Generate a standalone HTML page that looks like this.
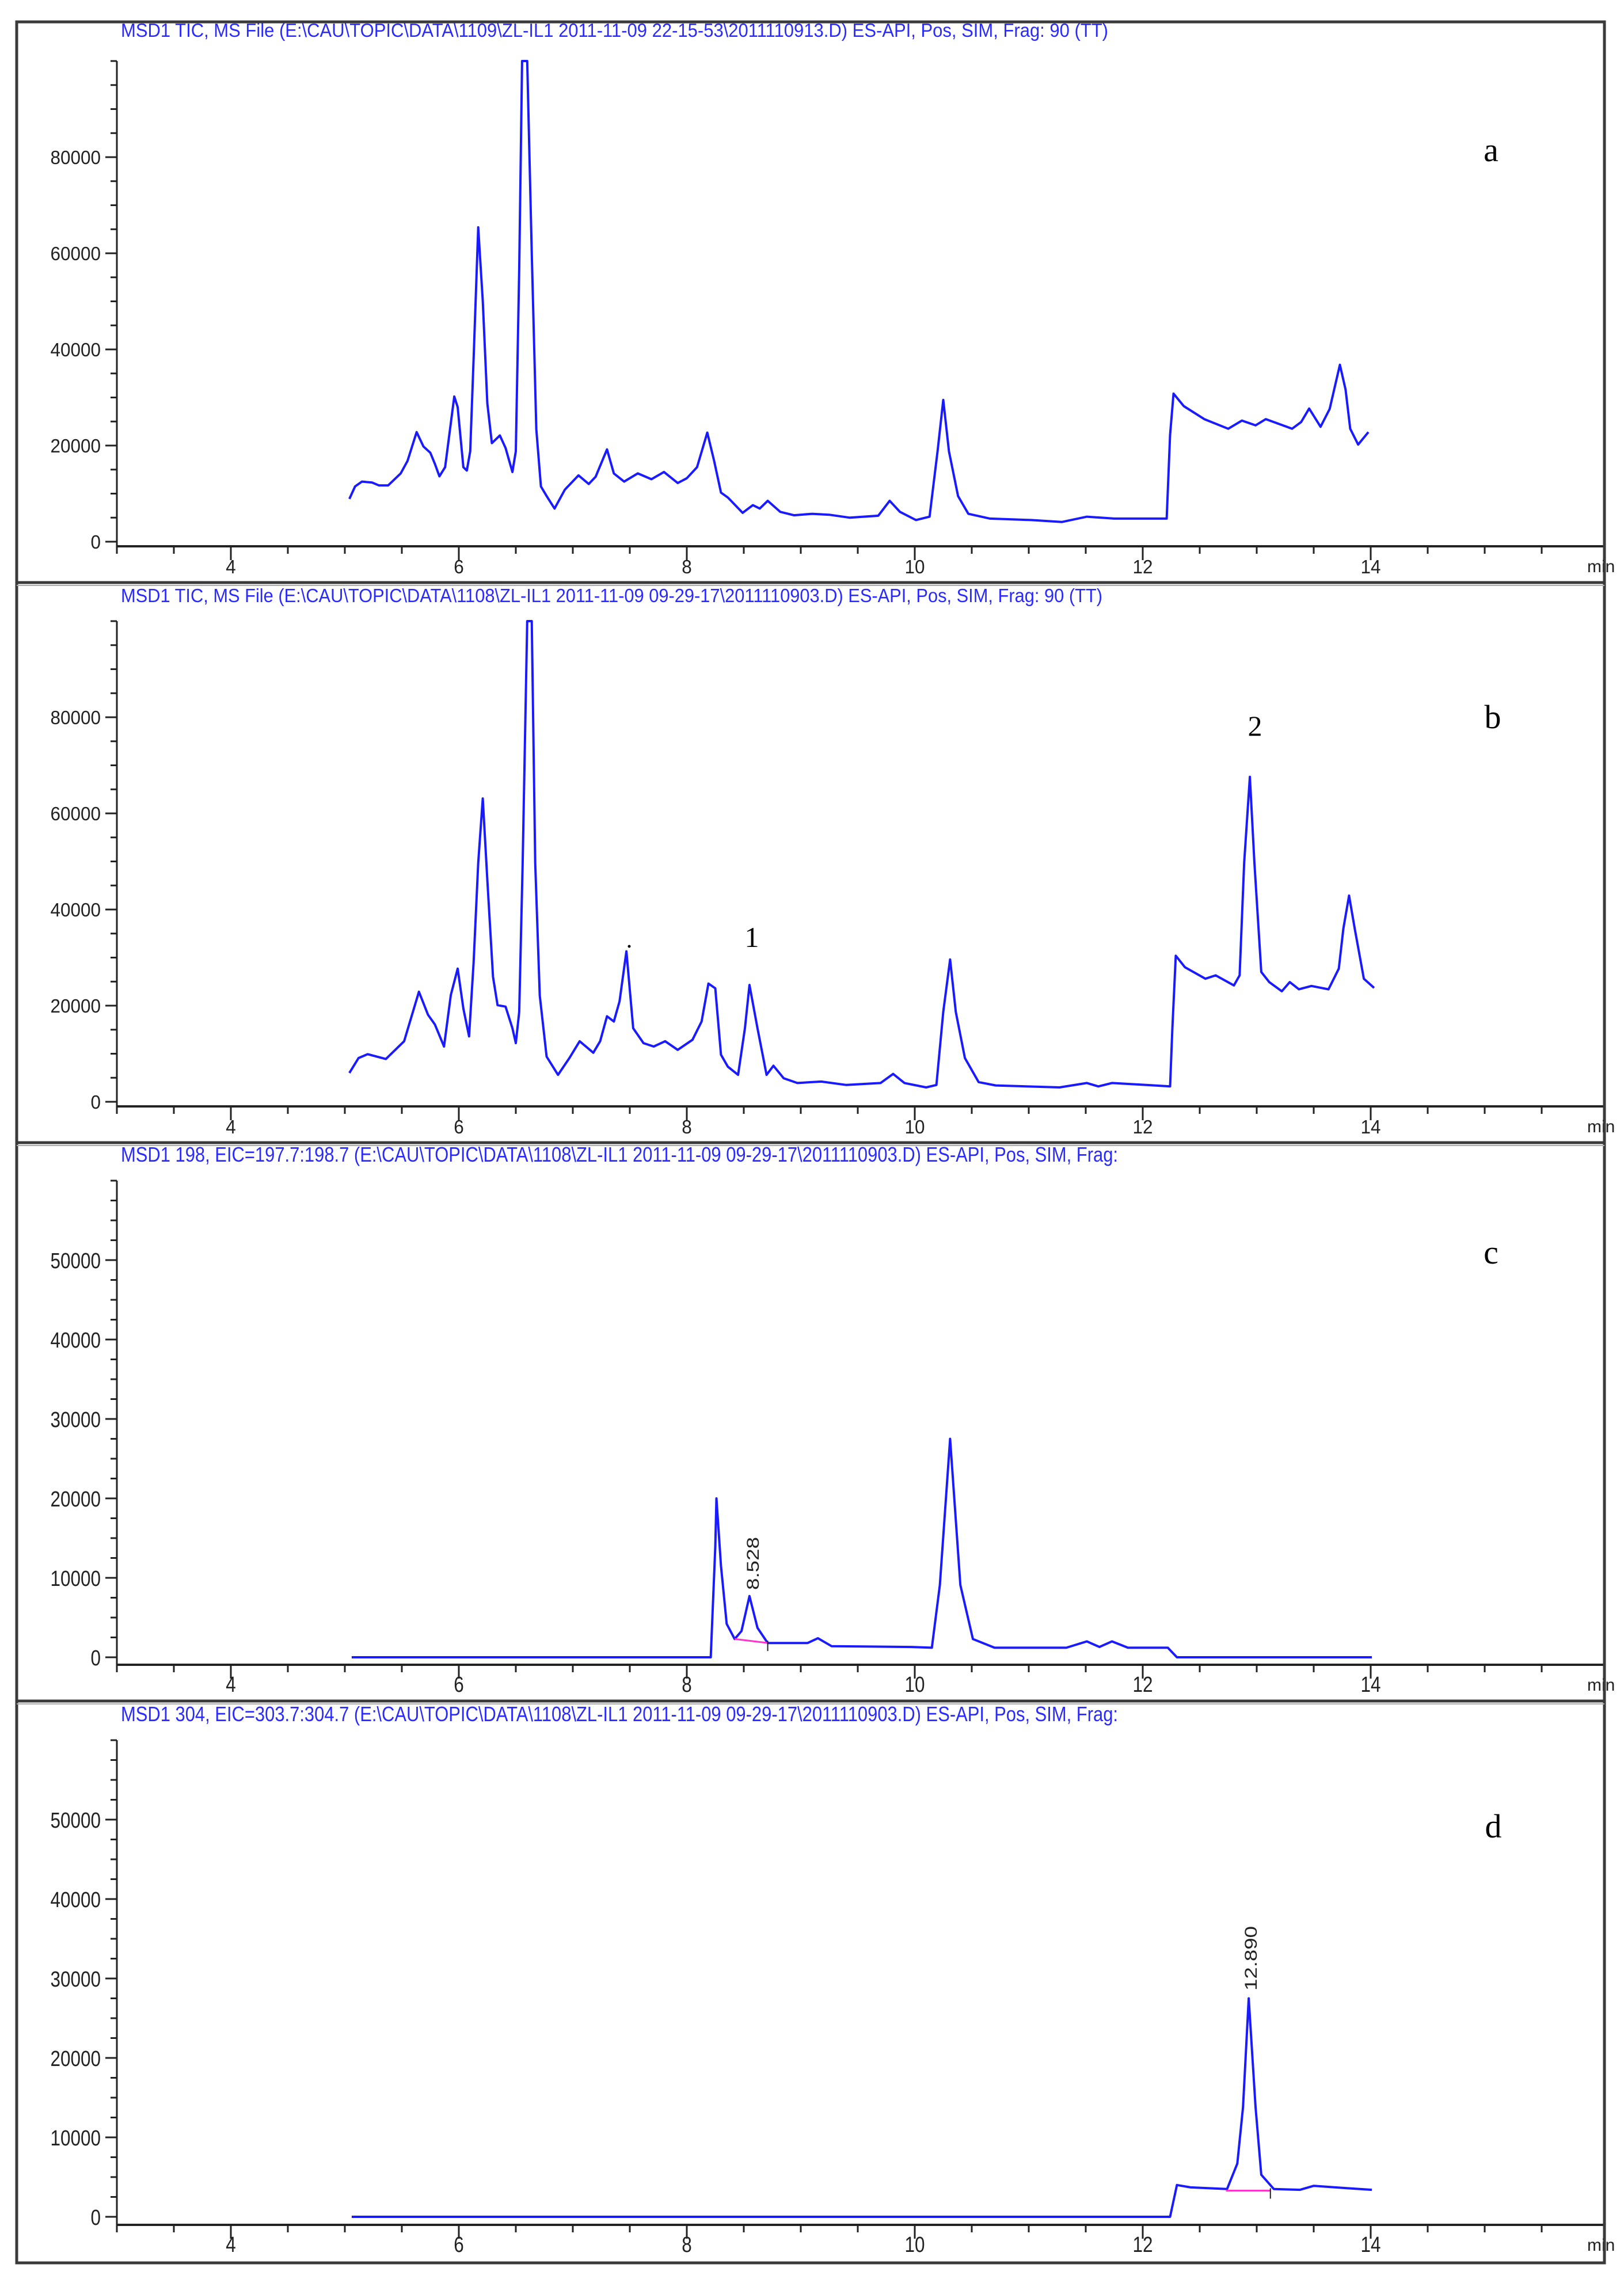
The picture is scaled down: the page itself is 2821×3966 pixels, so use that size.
<!DOCTYPE html>
<html><head><meta charset="utf-8"><title>Chromatograms a-d</title>
<style>
html,body{margin:0;padding:0;background:#fff;}
svg{display:block;}
</style></head>
<body>
<svg id="fig" xmlns="http://www.w3.org/2000/svg" width="2821" height="3966" viewBox="0 0 2821 3966">
<rect x="0" y="0" width="2821" height="3966" fill="#fff"/>
</svg>
<script>
// ---- data: [retention time (min), abundance] ----
const timesA=[5.04,5.09,5.15,5.24,5.30,5.38,5.49,5.55,5.63,5.69,5.75,5.79,5.83,5.88,5.96,5.99,6.04,6.07,6.10,6.13,6.17,6.21,6.25,6.29,6.36,6.41,6.47,6.50,6.53,6.555,6.60,6.64,6.68,6.72,6.77,6.84,6.93,7.05,7.14,7.20,7.30,7.36,7.45,7.57,7.69,7.80,7.92,8.00,8.09,8.18,8.24,8.30,8.36,8.49,8.58,8.64,8.71,8.82,8.94,9.10,9.25,9.43,9.68,9.78,9.87,10.01,10.13,10.20,10.25,10.30,10.38,10.47,10.66,11.02,11.29,11.51,11.75,12.21,12.24,12.27,12.36,12.54,12.75,12.87,12.99,13.08,13.31,13.39,13.46,13.56,13.64,13.73,13.78,13.82,13.89,13.98];
const valuesA=[8900,11500,12500,12300,11700,11700,14200,16800,22800,19800,18500,16200,13600,15500,30200,28000,15500,14800,18800,38100,65400,50100,28800,20500,22100,19500,14500,18800,56700,100000,100000,60000,23400,11500,9500,6900,10800,13800,12000,13500,19200,14200,12500,14200,13000,14500,12200,13200,15500,22700,16800,10200,9200,6000,7600,6900,8500,6200,5500,5800,5600,5000,5400,8500,6200,4500,5200,18800,29500,18800,9500,5800,4800,4500,4100,5200,4800,4800,22200,30800,28200,25500,23500,25200,24200,25500,23500,24900,27700,23900,27600,36800,31600,23500,20200,22800];

const timesB=[5.04,5.12,5.20,5.36,5.52,5.65,5.73,5.79,5.87,5.93,5.99,6.04,6.09,6.13,6.17,6.21,6.25,6.30,6.34,6.41,6.47,6.50,6.53,6.56,6.60,6.64,6.67,6.71,6.77,6.87,6.97,7.06,7.18,7.24,7.30,7.36,7.41,7.47,7.53,7.62,7.71,7.81,7.92,8.05,8.13,8.19,8.25,8.30,8.36,8.45,8.51,8.55,8.62,8.70,8.76,8.85,8.97,9.18,9.40,9.70,9.81,9.91,10.10,10.19,10.25,10.31,10.36,10.44,10.56,10.71,11.27,11.51,11.61,11.73,12.03,12.24,12.26,12.29,12.37,12.55,12.64,12.80,12.85,12.89,12.94,12.98,13.04,13.11,13.22,13.29,13.37,13.48,13.63,13.72,13.76,13.81,13.86,13.94,14.03];
const valuesB=[6000,9100,9900,8900,12600,22900,18100,16100,11500,22200,27700,19400,13600,29000,49700,63100,46200,26000,20100,19800,15300,12200,18700,49700,100000,100000,49700,22100,9400,5600,9100,12600,10200,12600,17800,16700,20900,31300,15300,12200,11500,12600,10800,12900,16700,24600,23600,9800,7300,5600,15300,24300,15300,5600,7500,4900,3900,4200,3500,3900,5800,3900,3000,3500,18700,29600,18700,9100,4100,3400,3000,3900,3200,3900,3500,3200,15300,30400,28000,25600,26300,24200,26300,49700,67600,49700,27000,24900,23000,24900,23400,24100,23400,27700,36000,42900,36000,25600,23700];

const timesC=[5.06,8.21,8.25,8.26,8.30,8.35,8.42,8.48,8.55,8.62,8.71,9.06,9.15,9.27,9.97,10.15,10.22,10.31,10.40,10.51,10.70,11.19,11.33,11.51,11.62,11.73,11.87,12.22,12.30,14.01];
const valuesC=[0,0,13900,20000,11500,4200,2300,3300,7700,3700,1800,1800,2400,1400,1300,1200,9100,27500,9100,2300,1200,1200,1200,2000,1300,2000,1200,1200,0,0];

const timesD=[5.06,12.24,12.30,12.42,12.74,12.83,12.88,12.93,12.99,13.04,13.15,13.38,13.50,13.79,14.01];
const valuesD=[0,0,4000,3700,3500,6700,13800,27500,13800,5300,3500,3400,3900,3600,3400];

const ticksAB=[0,20000,40000,60000,80000];
const ticksCD=[0,10000,20000,30000,40000,50000];
const xTickLabels=[4,6,8,10,12,14];

const baseC=[[8.42,2300],[8.71,1800]];
const baseD=[[12.73,3300],[13.12,3300]];

const titleA="MSD1 TIC, MS File (E:\\CAU\\TOPIC\\DATA\\1109\\ZL-IL1 2011-11-09 22-15-53\\2011110913.D)    ES-API, Pos, SIM, Frag: 90 (TT)";
const titleB="MSD1 TIC, MS File (E:\\CAU\\TOPIC\\DATA\\1108\\ZL-IL1 2011-11-09 09-29-17\\2011110903.D)    ES-API, Pos, SIM, Frag: 90 (TT)";
const titleC="MSD1 198, EIC=197.7:198.7 (E:\\CAU\\TOPIC\\DATA\\1108\\ZL-IL1 2011-11-09 09-29-17\\2011110903.D)    ES-API, Pos, SIM, Frag:";
const titleD="MSD1 304, EIC=303.7:304.7 (E:\\CAU\\TOPIC\\DATA\\1108\\ZL-IL1 2011-11-09 09-29-17\\2011110903.D)    ES-API, Pos, SIM, Frag:";

// ---- drawing ----
const NS="http://www.w3.org/2000/svg";
const svg=document.getElementById('fig');
function mk(tag,attrs,parent){const e=document.createElementNS(NS,tag);for(const k in attrs)e.setAttribute(k,attrs[k]);(parent||svg).appendChild(e);return e;}
const X0=203, XPM=198, RIGHT=2787;
function xs(t){return X0+(t-3)*XPM;}

const panels=[
 {id:'a',title:titleA,tw:1715,ty:64,y0:941,axisY:949,ppu:167/20000,ymax:100000,minor:5000,ticks:ticksAB,times:timesA,vals:valuesA,lab:'a',lx:2590,ly:280,tfs:33,big:false},
 {id:'b',title:titleB,tw:1705,ty:1046,y0:1914,axisY:1922,ppu:167/20000,ymax:100000,minor:5000,ticks:ticksAB,times:timesB,vals:valuesB,lab:'b',lx:2593,ly:1265,tfs:33,big:false},
 {id:'c',title:titleC,tw:1732,ty:2018,y0:2879,axisY:2892,ppu:138/10000,ymax:60000,minor:2500,ticks:ticksCD,times:timesC,vals:valuesC,lab:'c',lx:2590,ly:2195,tfs:36,big:true,base:baseC,peak:'8.528',px:1318,pcy:2716,pw:92},
 {id:'d',title:titleD,tw:1732,ty:2990,y0:3851,axisY:3865,ppu:138/10000,ymax:60000,minor:2500,ticks:ticksCD,times:timesD,vals:valuesD,lab:'d',lx:2594,ly:3192,tfs:36,big:true,base:baseD,peak:'12.890',px:2183,pcy:3402,pw:112}
];

panels.forEach(p=>{
  const g=mk('g',{});
  
  
  const ys=v=>p.y0-v*p.ppu;
  const title=mk('text',{x:210,y:p.ty,'font-family':'Liberation Sans, sans-serif','font-size':p.tfs,fill:'#2a2aff',textLength:p.tw,lengthAdjust:'spacingAndGlyphs'},g);
  title.textContent=p.title;
  
  
  const ax=mk('g',{stroke:'#222','stroke-width':3},g);
  
  
  mk('line',{x1:X0,y1:ys(p.ymax),x2:X0,y2:p.axisY},ax);
  mk('line',{x1:X0,y1:p.axisY,x2:RIGHT,y2:p.axisY,'stroke-width':4},ax);
  for(let v=0;v<=p.ymax;v+=p.minor){
    const major=p.ticks.indexOf(v)>=0;
    mk('line',{x1:X0-(major?20:11),y1:ys(v),x2:X0,y2:ys(v)},ax);
  }
  p.ticks.forEach(v=>{
    const t=mk('text',{x:175,y:ys(v)+(p.big?14:12),'text-anchor':'end','font-family':'Liberation Sans, sans-serif','font-size':p.big?38:33,fill:'#222',textLength:String(v).length*17.5,lengthAdjust:'spacingAndGlyphs'},g);
    t.textContent=v;
    
    
  });
  for(let t=3;t<=15.6;t+=0.5){
    const major=Math.abs(t-Math.round(t/2)*2)<1e-6;
    mk('line',{x1:xs(t),y1:p.axisY,x2:xs(t),y2:p.axisY+(major?24:13)},ax);
  }
  xTickLabels.forEach(v=>{
    const t=mk('text',{x:xs(v),y:p.axisY+47,'text-anchor':'middle','font-family':'Liberation Sans, sans-serif','font-size':p.big?38:33,fill:'#222',textLength:String(v).length*17.5,lengthAdjust:'spacingAndGlyphs'},g);
    t.textContent=v;
    
    
  });
  const mn=mk('text',{x:2757,y:p.axisY+45,'font-family':'Liberation Sans, sans-serif','font-size':30,fill:'#222'},g);
  mn.textContent='min';
  
  
  let d='';
  for(let i=0;i<p.times.length;i++){d+=(i?'L':'M')+xs(p.times[i]).toFixed(1)+' '+ys(Math.min(p.vals[i],p.ymax)).toFixed(1);}
  const line=mk('path',{d:d,fill:'none',stroke:'#1a1aff','stroke-width':4,'stroke-linejoin':'round'},g);
  
  
  if(p.base){
    const b=mk('line',{x1:xs(p.base[0][0]),y1:ys(p.base[0][1]),x2:xs(p.base[1][0]),y2:ys(p.base[1][1]),stroke:'#ff33cc','stroke-width':3},g);
    
    
    mk('line',{x1:xs(p.base[1][0]),y1:ys(p.base[1][1])-4,x2:xs(p.base[1][0]),y2:ys(p.base[1][1])+14,stroke:'#222','stroke-width':2},g);
    const pl=mk('text',{x:0,y:0,'text-anchor':'middle','font-family':'Liberation Sans, sans-serif','font-size':30,fill:'#222',transform:'translate('+p.px+','+p.pcy+') rotate(-90)',textLength:p.pw,lengthAdjust:'spacingAndGlyphs'},g);
    pl.textContent=p.peak;
    
    
  }
  const L=mk('text',{x:p.lx,y:p.ly,'text-anchor':'middle','font-family':'Liberation Serif, serif','font-size':58,fill:'#000'},g);
  L.textContent=p.lab;
  
  
});

// peak annotations in panel b
[['1',1306,1645],['2',2180,1278]].forEach(a=>{
  const t=mk('text',{x:a[1],y:a[2],'text-anchor':'middle','font-family':'Liberation Serif, serif','font-size':50,fill:'#000'});
  t.textContent=a[0];
  
  
});
mk('circle',{cx:1093,cy:1644,r:2.5,fill:'#000'});

// frame and separators
const fr=mk('g',{fill:'none',stroke:'#3a3a3a'});


mk('rect',{x:29,y:38,width:2758,height:3893,'stroke-width':5},fr);
[1012,1985,2955].forEach(y=>{
  mk('line',{x1:29,y1:y,x2:2787,y2:y,'stroke-width':5},fr);
  mk('line',{x1:29,y1:y+5,x2:2787,y2:y+5,'stroke-width':2,stroke:'#aaa'},fr);
});
</script>
</body></html>
